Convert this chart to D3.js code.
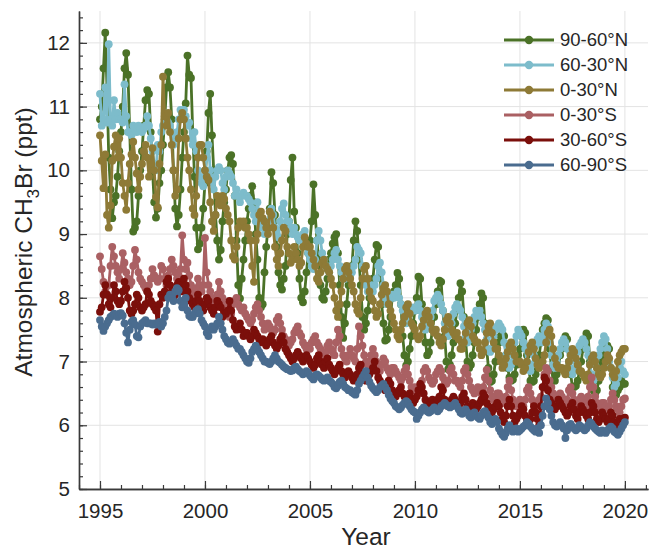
<!DOCTYPE html>
<html>
<head>
<meta charset="utf-8">
<script src="https://cdn.jsdelivr.net/npm/d3@7"></script>
<style>
  body { margin: 0; background: #fff; }
  svg text { font-family: "Liberation Sans", Arial, Helvetica, sans-serif; fill: #262626; }
</style>
</head>
<body>
<svg id="chart" width="649" height="550"></svg>
<script>
// Monthly zonal-mean CH3Br mixing ratios (ppt), January 1995 onward, one row per year.
const startYear = 1995;

const lat90to60N = [
  10.8, 11.0, 11.6, 12.16, 11.3, 10.2, 9.7, 9.25, 9.5, 9.6, 9.9, 10.3,
  10.6, 11.0, 11.6, 11.84, 11.5, 10.6, 9.7, 9.04, 9.1, 9.2, 9.6, 10.0,
  10.3, 10.7, 11.1, 11.26, 11.2, 10.6, 10.0, 9.5, 9.26, 9.4, 9.8, 10.0,
  10.4, 10.8, 11.3, 11.54, 11.3, 10.8, 10.0, 9.4, 9.12, 9.3, 9.7, 10.2,
  10.6, 11.05, 11.8, 11.5, 11.45, 10.6, 9.9, 9.1, 8.76, 8.85, 9.1, 9.4,
  9.8, 10.3, 10.9, 11.2, 10.55, 10.0, 9.3, 8.9, 8.6, 8.75, 9.2, 9.5,
  9.7, 10.0, 10.2, 10.24, 10.1, 9.6, 8.9, 8.2, 7.99, 8.3, 8.6, 8.9,
  9.2, 9.4, 9.6, 9.75, 9.5, 9.0, 8.6, 8.0, 7.85, 7.9, 8.4, 8.8,
  9.1, 9.4, 9.97, 9.8, 9.3, 8.8, 8.4, 8.2, 8.13, 8.3, 8.5, 9.0,
  9.2, 9.85, 10.2, 9.35, 9.1, 8.7, 8.3, 8.0, 7.93, 8.1, 8.4, 8.7,
  8.9, 9.2, 9.78, 9.3, 8.9, 8.6, 8.2, 8.0, 7.97, 8.1, 8.3, 8.6,
  8.7, 8.85, 8.95, 9.0, 8.7, 8.2, 7.7, 7.37, 7.6, 7.9, 8.2, 8.4,
  8.5, 8.9, 9.2, 9.05, 8.6, 8.2, 7.7, 7.5, 7.6, 7.8, 8.0, 8.2,
  8.3, 8.6, 8.83, 8.8, 8.4, 7.9, 7.6, 7.33, 7.35, 7.5, 7.7, 8.0,
  8.1, 8.2, 8.39, 8.3, 7.9, 7.4, 7.1, 6.94, 7.0, 7.2, 7.4, 7.6,
  7.8, 8.0, 8.33, 8.3, 7.9, 7.6, 7.3, 7.1, 7.15, 7.3, 7.5, 7.7,
  7.9, 8.1, 8.27, 8.25, 7.8, 7.4, 7.0, 6.88, 6.95, 7.1, 7.3, 7.6,
  7.8, 8.0, 8.23, 8.1, 7.7, 7.3, 7.0, 6.9, 6.95, 7.1, 7.3, 7.5,
  7.7, 7.9, 8.07, 8.0, 7.6, 7.2, 6.9, 6.68, 6.7, 6.8, 7.0, 7.2,
  7.3, 7.4, 7.44, 7.4, 7.1, 6.9, 6.75, 6.7, 6.72, 6.8, 6.95, 7.1,
  7.2, 7.4, 7.5, 7.45, 7.1, 6.9, 6.7, 6.68, 6.7, 6.8, 6.9, 7.1,
  7.3, 7.5, 7.6, 7.68, 7.65, 7.2, 6.9, 6.7, 6.7, 6.8, 6.9, 7.1,
  7.2, 7.3, 7.4, 7.35, 7.0, 6.8, 6.6, 6.6, 6.62, 6.7, 6.85, 7.0,
  7.2, 7.35, 7.44, 7.4, 7.0, 6.7, 6.55, 6.5, 6.55, 6.7, 6.9, 7.0,
  7.1, 7.2, 7.25, 7.2, 6.9, 6.6, 6.5, 6.48, 6.55, 6.6, 6.7, 6.65,
  6.65
];

const lat60to30N = [
  11.2, 10.7, 10.8, 11.3, 10.75, 11.98, 10.8, 10.7, 11.1, 10.8, 10.9, 10.8,
  10.8, 10.75, 11.35, 10.85, 10.6, 10.6, 10.55, 10.7, 10.65, 10.6, 10.7, 10.65,
  10.6, 10.65, 10.7, 10.85, 10.7, 10.5, 10.3, 10.1, 10.0, 10.4, 10.3, 10.6,
  10.7, 10.9, 10.8, 10.75, 10.7, 10.6, 10.4, 10.5, 10.6, 10.8, 10.95, 10.9,
  10.95, 10.85, 10.7, 10.75, 10.5, 10.4, 10.6, 10.3, 10.0, 9.9, 9.8, 9.75,
  10.0, 10.2, 10.4, 10.0, 9.8, 9.7, 9.9, 10.0, 10.05, 10.0, 9.8, 9.7,
  9.9, 10.0, 9.95, 9.9, 9.8, 9.6, 9.7, 9.6, 9.5, 9.6, 9.65, 9.6,
  9.6, 9.55, 9.5, 9.4, 9.3, 9.2, 9.5, 9.3, 9.1, 9.2, 9.0, 9.1,
  9.2, 9.35, 9.4, 9.3, 9.1, 9.0, 8.95, 9.2, 9.4, 9.48, 9.3, 9.2,
  9.2, 9.1, 9.0, 9.1, 9.0, 8.95, 8.9, 8.9, 9.0, 9.05, 8.8, 8.7,
  8.6, 8.5, 8.45, 8.6, 8.9, 9.05, 8.9, 8.7, 8.6, 8.5, 8.45, 8.4,
  8.5, 8.6, 8.7, 8.75, 8.6, 8.5, 8.4, 8.3, 8.3, 8.35, 8.4, 8.35,
  8.4, 8.5, 8.6, 8.8, 8.75, 8.7, 8.5, 8.3, 8.2, 8.1, 8.15, 8.2,
  8.1, 8.2, 8.3, 8.5, 8.55, 8.4, 8.2, 8.0, 7.9, 7.95, 8.0, 8.05,
  8.0, 8.05, 8.1, 8.0, 7.9, 7.8, 7.75, 7.6, 7.65, 7.75, 7.8, 7.85,
  7.8, 7.85, 7.9, 7.8, 7.7, 7.6, 7.5, 7.55, 7.6, 7.7, 7.8, 7.95,
  8.0, 8.05, 8.0, 7.9, 7.8, 7.6, 7.5, 7.4, 7.45, 7.6, 7.75, 7.85,
  7.9, 7.85, 7.8, 7.7, 7.55, 7.4, 7.3, 7.35, 7.5, 7.6, 7.7, 7.8,
  7.75, 7.8, 7.7, 7.6, 7.5, 7.35, 7.2, 7.15, 7.2, 7.4, 7.5, 7.55,
  7.6, 7.55, 7.5, 7.3, 7.1, 7.0, 6.9, 6.95, 7.1, 7.3, 7.4, 7.5,
  7.45, 7.4, 7.3, 7.2, 7.0, 6.9, 6.85, 6.95, 7.1, 7.25, 7.35, 7.4,
  7.3, 7.4, 7.5, 7.6, 7.55, 7.3, 7.1, 6.95, 6.9, 7.0, 7.1, 7.2,
  7.3, 7.35, 7.3, 7.2, 7.0, 6.9, 6.8, 6.85, 7.0, 7.15, 7.25, 7.3,
  7.35, 7.3, 7.2, 7.1, 6.95, 6.8, 6.7, 6.75, 6.9, 7.1, 7.2, 7.3,
  7.4, 7.35, 7.2, 7.0, 6.9, 6.75, 6.6, 6.65, 6.75, 6.9, 7.0, 6.85,
  6.8
];

const lat0to30N = [
  10.55, 10.15, 9.72, 10.25, 9.3, 9.1, 9.45, 10.15, 10.37, 10.55, 10.2, 10.5,
  10.2, 9.8, 9.6, 9.38, 9.8, 10.1, 10.25, 10.45, 10.2, 9.95, 9.7, 9.9,
  10.1, 10.3, 10.4, 10.2, 9.9, 10.1, 10.35, 10.0, 9.58, 9.42, 10.1, 10.4,
  11.47, 10.85, 10.7, 10.9, 10.6, 10.4, 10.0, 9.6, 9.7, 10.5, 10.8, 10.9,
  10.8, 10.5, 10.2, 10.0, 9.7, 9.4, 9.3, 9.6, 10.2, 10.4, 10.4, 10.2,
  10.0, 9.9, 9.85, 9.5, 9.2, 9.05, 9.3, 9.6, 9.5, 9.45, 9.6, 9.55,
  9.4, 9.3, 9.2, 8.9, 8.65, 8.6, 8.8, 9.1, 9.2, 9.15, 9.2, 9.1,
  9.1, 9.0, 8.9, 8.5, 8.25, 8.9, 9.0, 9.3, 9.35, 9.25, 9.2, 9.1,
  9.0, 9.35, 9.3, 9.1, 8.8, 8.6, 8.5, 8.7, 8.9, 9.1, 9.05, 8.8,
  8.7, 8.55, 8.6, 8.8, 8.7, 8.6, 8.5, 8.55, 8.8, 8.95, 8.85, 8.8,
  8.8, 8.7, 8.6, 8.5, 8.3, 8.25, 8.4, 8.55, 8.6, 8.5, 8.45, 8.4,
  8.3, 8.2, 8.0, 7.8, 7.7, 7.9, 8.1, 8.3, 8.45, 8.5, 8.4, 8.3,
  8.2, 8.1, 7.9, 7.8, 7.75, 8.0, 8.3, 8.45, 8.5, 8.3, 8.1, 8.0,
  7.95, 7.8, 7.7, 7.75, 7.9, 8.05, 8.15, 8.2, 8.1, 7.9, 7.8, 7.7,
  7.6, 7.5, 7.4, 7.35, 7.5, 7.6, 7.7, 7.85, 7.9, 7.75, 7.6, 7.55,
  7.5, 7.4, 7.35, 7.4, 7.55, 7.65, 7.75, 7.8, 7.7, 7.6, 7.5, 7.45,
  7.5, 7.4, 7.3, 7.25, 7.35, 7.5, 7.65, 7.7, 7.6, 7.5, 7.45, 7.4,
  7.45, 7.35, 7.2, 7.2, 7.3, 7.45, 7.6, 7.65, 7.55, 7.4, 7.35, 7.3,
  7.3, 7.2, 7.1, 7.15, 7.3, 7.45, 7.55, 7.6, 7.45, 7.3, 7.2, 7.2,
  7.1, 7.0, 6.9, 6.95, 7.05, 7.15, 7.25, 7.3, 7.2, 7.1, 7.0, 7.0,
  7.0, 6.95, 6.85, 6.9, 7.0, 7.15, 7.25, 7.3, 7.2, 7.05, 6.95, 6.9,
  6.95, 7.0, 7.1, 7.3, 7.45, 7.5, 7.4, 7.2, 7.05, 6.95, 6.9, 6.9,
  6.9, 6.85, 6.8, 6.9, 7.0, 7.1, 7.2, 7.15, 7.05, 6.95, 6.85, 6.85,
  6.8, 6.75, 6.7, 6.8, 6.95, 7.05, 7.1, 7.0, 6.9, 6.8, 6.75, 6.8,
  6.9, 7.0, 7.1, 7.05, 6.9, 6.8, 6.75, 6.85, 7.0, 7.1, 7.15, 7.2,
  7.2
];

const lat0to30S = [
  8.65, 8.45, 8.25, 8.1, 8.05, 8.2, 8.5, 8.8, 8.65, 8.5, 8.4, 8.3,
  8.45, 8.7, 8.55, 8.4, 8.3, 8.2, 8.25, 8.5, 8.75, 8.6, 8.4, 8.3,
  8.25, 8.2, 8.15, 8.1, 8.2, 8.3, 8.45, 8.35, 8.3, 8.25, 8.3, 8.5,
  8.45, 8.3, 8.2, 8.35, 8.45, 8.6, 8.5, 8.4, 8.3, 8.35, 8.45, 8.98,
  8.6, 8.45, 8.55, 8.35, 8.2, 8.1, 8.05, 8.15, 8.3, 8.2, 8.1, 8.2,
  8.94, 8.4, 8.2, 8.1, 8.0, 7.9, 7.95, 8.05, 8.25, 8.1, 8.0, 7.9,
  7.85, 7.8, 7.7, 7.75, 7.9, 7.95, 8.0, 7.9, 7.85, 7.8, 7.85, 7.75,
  7.7, 7.65, 7.6, 7.65, 7.75, 7.85, 7.9, 7.8, 7.7, 7.6, 7.5, 7.55,
  7.6, 7.55, 7.5, 7.45, 7.5, 7.65, 7.7, 7.6, 7.5, 7.4, 7.35, 7.3,
  7.25, 7.3, 7.35, 7.45, 7.5, 7.55, 7.45, 7.4, 7.3, 7.25, 7.2, 7.25,
  7.2, 7.3, 7.35, 7.4, 7.3, 7.25, 7.2, 7.15, 7.1, 7.15, 7.25, 7.3,
  7.2, 7.15, 7.1, 7.3, 7.5, 7.4, 7.2, 7.1, 7.05, 7.0, 7.1, 7.2,
  7.1, 7.05, 7.0, 7.2, 7.55, 7.4, 7.25, 7.1, 7.0, 6.95, 7.0, 7.1,
  7.2, 7.1, 7.0, 6.9, 6.85, 6.95, 7.05, 7.0, 6.9, 6.85, 6.8, 6.9,
  6.9, 6.85, 6.8, 6.75, 6.7, 6.75, 6.85, 6.9, 6.8, 6.7, 6.6, 6.55,
  6.6, 6.55, 6.5, 6.6, 6.7, 6.85, 6.9, 6.85, 6.75, 6.7, 6.65, 6.7,
  6.8, 6.85, 6.9, 6.85, 6.75, 6.7, 6.65, 6.7, 6.85, 6.9, 6.8, 6.7,
  6.7, 6.65, 6.6, 6.7, 6.85, 6.9, 6.8, 6.7, 6.6, 6.55, 6.5, 6.55,
  6.6, 6.55, 6.5, 6.6, 6.75, 6.87, 6.7, 6.55, 6.45, 6.4, 6.45, 6.5,
  6.5, 6.45, 6.4, 6.35, 6.45, 6.6, 6.7, 6.55, 6.4, 6.35, 6.3, 6.35,
  6.4, 6.35, 6.3, 6.4, 6.55, 6.6, 6.5, 6.4, 6.35, 6.3, 6.35, 6.4,
  6.45, 6.6, 6.8, 6.9, 6.85, 6.7, 6.6, 6.5, 6.45, 6.4, 6.45, 6.5,
  6.45, 6.4, 6.35, 6.4, 6.55, 6.6, 6.5, 6.4, 6.35, 6.3, 6.4, 6.45,
  6.4, 6.35, 6.3, 6.45, 6.6, 6.75, 6.6, 6.45, 6.35, 6.3, 6.3, 6.35,
  6.35, 6.3, 6.25, 6.3, 6.4, 6.5, 6.4, 6.3, 6.25, 6.2, 6.3, 6.4,
  6.42
];

const lat30to60S = [
  7.78, 7.85, 8.05, 8.2, 8.05, 7.9, 7.85, 8.0, 8.2, 8.1, 7.95, 7.9,
  7.95, 8.1, 8.25, 8.15, 8.0, 7.8, 7.75, 7.8, 7.9, 8.05, 8.0, 7.85,
  7.8, 7.85, 7.9, 8.1, 8.05, 7.95, 7.9, 7.85, 7.8, 7.47, 7.9, 8.05,
  8.0, 8.1, 8.25, 8.3, 8.2, 8.1, 8.0, 8.05, 8.2, 8.25, 8.2, 8.1,
  8.3, 8.2, 8.1, 8.0, 7.95, 7.9, 7.85, 7.95, 8.05, 7.95, 7.85, 7.8,
  7.9, 8.0, 7.95, 7.85, 7.8, 7.75, 7.85, 7.95, 7.9, 7.85, 7.7, 7.75,
  7.75, 7.8, 7.95, 7.8, 7.65, 7.55, 7.5, 7.55, 7.6, 7.5, 7.4, 7.45,
  7.45, 7.4, 7.35, 7.4, 7.5, 7.45, 7.4, 7.35, 7.3, 7.35, 7.3, 7.25,
  7.3, 7.35, 7.4, 7.3, 7.25, 7.2, 7.25, 7.35, 7.4, 7.3, 7.2, 7.15,
  7.1, 7.05, 7.0, 7.05, 7.1, 7.15, 7.1, 7.05, 7.0, 7.05, 7.1, 7.05,
  7.0, 6.95, 6.9, 6.95, 7.05, 7.1, 7.0, 6.95, 6.9, 7.0, 7.05, 6.95,
  6.9, 6.85, 6.8, 6.85, 6.9, 6.95, 6.85, 6.8, 6.75, 6.8, 6.85, 6.8,
  6.75, 6.7, 6.75, 6.8, 6.9, 6.95, 6.85, 6.75, 6.7, 6.75, 6.8, 6.85,
  6.9, 7.0, 6.85, 6.75, 6.7, 6.65, 6.6, 6.55, 6.6, 6.7, 6.65, 6.55,
  6.5, 6.45, 6.5, 6.55, 6.6, 6.5, 6.45, 6.4, 6.45, 6.5, 6.4, 6.35,
  6.4, 6.45, 6.55, 6.65, 6.6, 6.5, 6.4, 6.35, 6.3, 6.35, 6.4, 6.35,
  6.35, 6.4, 6.45, 6.6, 6.55, 6.4, 6.35, 6.3, 6.35, 6.4, 6.45, 6.4,
  6.35, 6.3, 6.35, 6.45, 6.5, 6.4, 6.3, 6.25, 6.3, 6.35, 6.3, 6.25,
  6.3, 6.35, 6.4, 6.5, 6.45, 6.35, 6.3, 6.25, 6.2, 6.25, 6.3, 6.35,
  6.3, 6.2, 6.1, 6.05, 6.15, 6.3, 6.4, 6.3, 6.15, 6.05, 6.1, 6.15,
  6.2, 6.3, 6.25, 6.15, 6.1, 6.05, 6.1, 6.2, 6.3, 6.2, 6.1, 6.0,
  6.3, 6.6, 6.75, 6.7, 6.55, 6.4, 6.35, 6.3, 6.25, 6.3, 6.4, 6.35,
  6.3, 6.25, 6.2, 6.15, 6.2, 6.3, 6.35, 6.25, 6.15, 6.1, 6.2, 6.3,
  6.25, 6.2, 6.15, 6.1, 6.2, 6.35, 6.3, 6.2, 6.1, 6.05, 6.1, 6.2,
  6.15, 6.1, 6.05, 6.1, 6.2, 6.15, 6.05, 6.0, 6.05, 6.1, 6.05, 6.1,
  6.12
];

const lat60to90S = [
  7.65, 7.55, 7.48, 7.55, 7.6, 7.65, 7.7, 7.72, 7.75, 7.73, 7.7, 7.75,
  7.76, 7.72, 7.6, 7.45, 7.3, 7.5, 7.62, 7.65, 7.58, 7.4, 7.38, 7.55,
  7.6, 7.62, 7.65, 7.6, 7.6, 7.6, 7.58, 7.6, 7.58, 7.6, 7.62, 7.55,
  7.6, 7.7, 7.8, 8.0, 8.05, 8.0, 7.95, 8.1, 8.15, 8.12, 7.95, 7.85,
  7.9, 8.0, 7.8, 7.72, 7.7, 7.7, 7.75, 7.8, 7.82, 7.75, 7.65, 7.6,
  7.55, 7.45, 7.4, 7.5, 7.55, 7.5, 7.55, 7.6, 7.7, 7.6, 7.5, 7.4,
  7.35, 7.3, 7.28, 7.3, 7.35, 7.3, 7.25, 7.2, 7.2, 7.15, 7.1, 7.05,
  7.0, 6.98, 7.05, 7.15, 7.2, 7.25, 7.2, 7.15, 7.1, 7.05, 7.0, 7.0,
  6.98, 6.96, 7.0, 7.05, 7.1, 7.05, 7.0, 6.98, 6.95, 6.92, 6.9, 6.88,
  6.87, 6.85, 6.86, 6.9, 6.92, 6.88, 6.85, 6.83, 6.8, 6.82, 6.85, 6.82,
  6.78, 6.75, 6.72, 6.78, 6.8, 6.78, 6.75, 6.72, 6.7, 6.72, 6.75, 6.7,
  6.68, 6.65, 6.6, 6.58, 6.62, 6.68, 6.7, 6.65, 6.6, 6.58, 6.55, 6.55,
  6.52, 6.5, 6.48, 6.55, 6.65, 6.7, 6.75, 6.8, 6.85, 6.75, 6.68, 6.62,
  6.58, 6.55, 6.52, 6.55, 6.6, 6.62, 6.65, 6.6, 6.55, 6.48, 6.42, 6.38,
  6.35, 6.3, 6.28, 6.25, 6.28, 6.32, 6.35, 6.38, 6.35, 6.3, 6.25, 6.22,
  6.2, 6.1, 6.15, 6.2, 6.25, 6.28, 6.25, 6.22, 6.2, 6.22, 6.25, 6.28,
  6.25, 6.22, 6.25, 6.3, 6.32, 6.35, 6.32, 6.3, 6.28, 6.3, 6.32, 6.35,
  6.3, 6.25, 6.2, 6.18, 6.22, 6.25, 6.2, 6.15, 6.12, 6.18, 6.2, 6.15,
  6.12, 6.1, 6.15, 6.2, 6.22, 6.18, 6.12, 6.05, 6.02, 6.08, 6.1, 6.05,
  5.95, 5.9, 5.85, 5.82, 5.88, 5.95, 6.0, 5.95, 5.9, 5.92, 5.95, 5.9,
  5.92, 5.95, 5.98, 6.0, 6.05, 6.02, 5.98, 5.95, 5.92, 5.9, 5.95, 5.88,
  6.0, 6.15, 6.3, 6.42, 6.35, 6.25, 6.15, 6.05, 6.0, 5.98, 6.0, 6.05,
  6.0, 5.95, 5.8, 5.92, 6.0, 6.02, 5.98, 5.95, 5.92, 5.95, 6.0, 5.98,
  5.95, 5.92, 5.95, 6.0, 6.05, 6.02, 5.98, 5.95, 5.92, 5.9, 5.88, 5.92,
  5.9, 5.88, 5.92, 5.95, 5.98, 5.95, 5.9, 5.88, 5.85, 5.9, 5.95, 6.0,
  6.05
];

const seriesNames = ["90-60°N", "60-30°N", "0-30°N", "0-30°S", "30-60°S", "60-90°S"];
const seriesValues = [lat90to60N, lat60to30N, lat0to30N, lat0to30S, lat30to60S, lat60to90S];
const seriesColors = ["#4b7227", "#7dbccb", "#8e7a36", "#aa6063", "#7b0f0b", "#4a6c8f"];

const yearTicks = [1995, 2000, 2005, 2010, 2015, 2020];
const valueTicks = [5, 6, 7, 8, 9, 10, 11, 12];

// ---- layout ----
const svg = d3.select("#chart");
const plotLeft = 79, plotRight = 648, plotTop = 11, plotBottom = 489;

const x = d3.scaleLinear().domain([1994, 2021.1]).range([plotLeft, plotRight]);
const y = d3.scaleLinear().domain([5, 12.5]).range([plotBottom, plotTop]);

// grid
const grid = svg.append("g").attr("stroke", "#e3e3e3").attr("stroke-width", 1);
grid.selectAll("line.v").data(yearTicks).join("line")
  .attr("class", "v")
  .attr("x1", d => x(d)).attr("x2", d => x(d))
  .attr("y1", plotTop).attr("y2", plotBottom);
grid.selectAll("line.h").data(valueTicks).join("line")
  .attr("class", "h")
  .attr("y1", d => y(d)).attr("y2", d => y(d))
  .attr("x1", plotLeft).attr("x2", plotRight);

// series: line plus a dot at every monthly value
const line = d3.line().x(d => x(d.t)).y(d => y(d.v));
seriesValues.forEach((vals, k) => {
  const pts = vals.map((v, i) => ({ t: startYear + i / 12, v }));
  const g = svg.append("g");
  g.append("path").datum(pts)
    .attr("d", line).attr("fill", "none")
    .attr("stroke", seriesColors[k]).attr("stroke-width", 2.8)
    .attr("stroke-linejoin", "round");
  g.selectAll("circle").data(pts).join("circle")
    .attr("cx", d => x(d.t)).attr("cy", d => y(d.v)).attr("r", 3.9)
    .attr("fill", seriesColors[k]);
});

// axes with inward ticks
const axisColor = "#3a3a3a";
const minorYears = d3.range(1994, 2022);
const minorValues = d3.range(5, 12.5001, 0.2).map(v => +v.toFixed(1));

const xAxisMinor = svg.append("g").attr("transform", `translate(0,${plotBottom})`)
  .call(d3.axisBottom(x).tickValues(minorYears).tickSize(-4).tickSizeOuter(0).tickFormat(""));
const xAxis = svg.append("g").attr("transform", `translate(0,${plotBottom})`)
  .call(d3.axisBottom(x).tickValues(yearTicks).tickSize(-8).tickSizeOuter(0).tickPadding(14).tickFormat(d3.format("d")));
const yAxisMinor = svg.append("g").attr("transform", `translate(${plotLeft},0)`)
  .call(d3.axisLeft(y).tickValues(minorValues).tickSize(-4).tickSizeOuter(0).tickFormat(""));
const yAxis = svg.append("g").attr("transform", `translate(${plotLeft},0)`)
  .call(d3.axisLeft(y).tickValues(valueTicks).tickSize(-8).tickSizeOuter(0).tickPadding(9).tickFormat(d3.format("d")));

[xAxisMinor, xAxis, yAxisMinor, yAxis].forEach(a => {
  a.selectAll(".domain").attr("stroke", axisColor).attr("stroke-width", 1.4);
  a.selectAll(".tick line").attr("stroke", axisColor).attr("stroke-width", 1.2);
  a.selectAll("text").attr("font-size", 20.5).attr("fill", "#262626")
    .attr("font-family", '"Liberation Sans", Arial, sans-serif');
});

// axis titles
svg.append("text")
  .attr("x", 366).attr("y", 545)
  .attr("text-anchor", "middle").attr("font-size", 24.5)
  .text("Year");

const yTitle = svg.append("text")
  .attr("transform", "translate(32,242) rotate(-90)")
  .attr("text-anchor", "middle").attr("font-size", 24.5);
yTitle.append("tspan").text("Atmospheric CH");
yTitle.append("tspan").attr("font-size", 17).attr("dy", 7).text("3");
yTitle.append("tspan").attr("dy", -7).text("Br (ppt)");

// legend
const legend = svg.append("g");
seriesNames.forEach((name, k) => {
  const ly = 40 + k * 25;
  legend.append("line").attr("x1", 504).attr("x2", 554).attr("y1", ly).attr("y2", ly)
    .attr("stroke", seriesColors[k]).attr("stroke-width", 3);
  legend.append("circle").attr("cx", 529).attr("cy", ly).attr("r", 4.2)
    .attr("fill", seriesColors[k]);
  legend.append("text").attr("x", 560).attr("y", ly).attr("dy", "0.35em")
    .attr("font-size", 18.5).text(name);
});
</script>
</body>
</html>
